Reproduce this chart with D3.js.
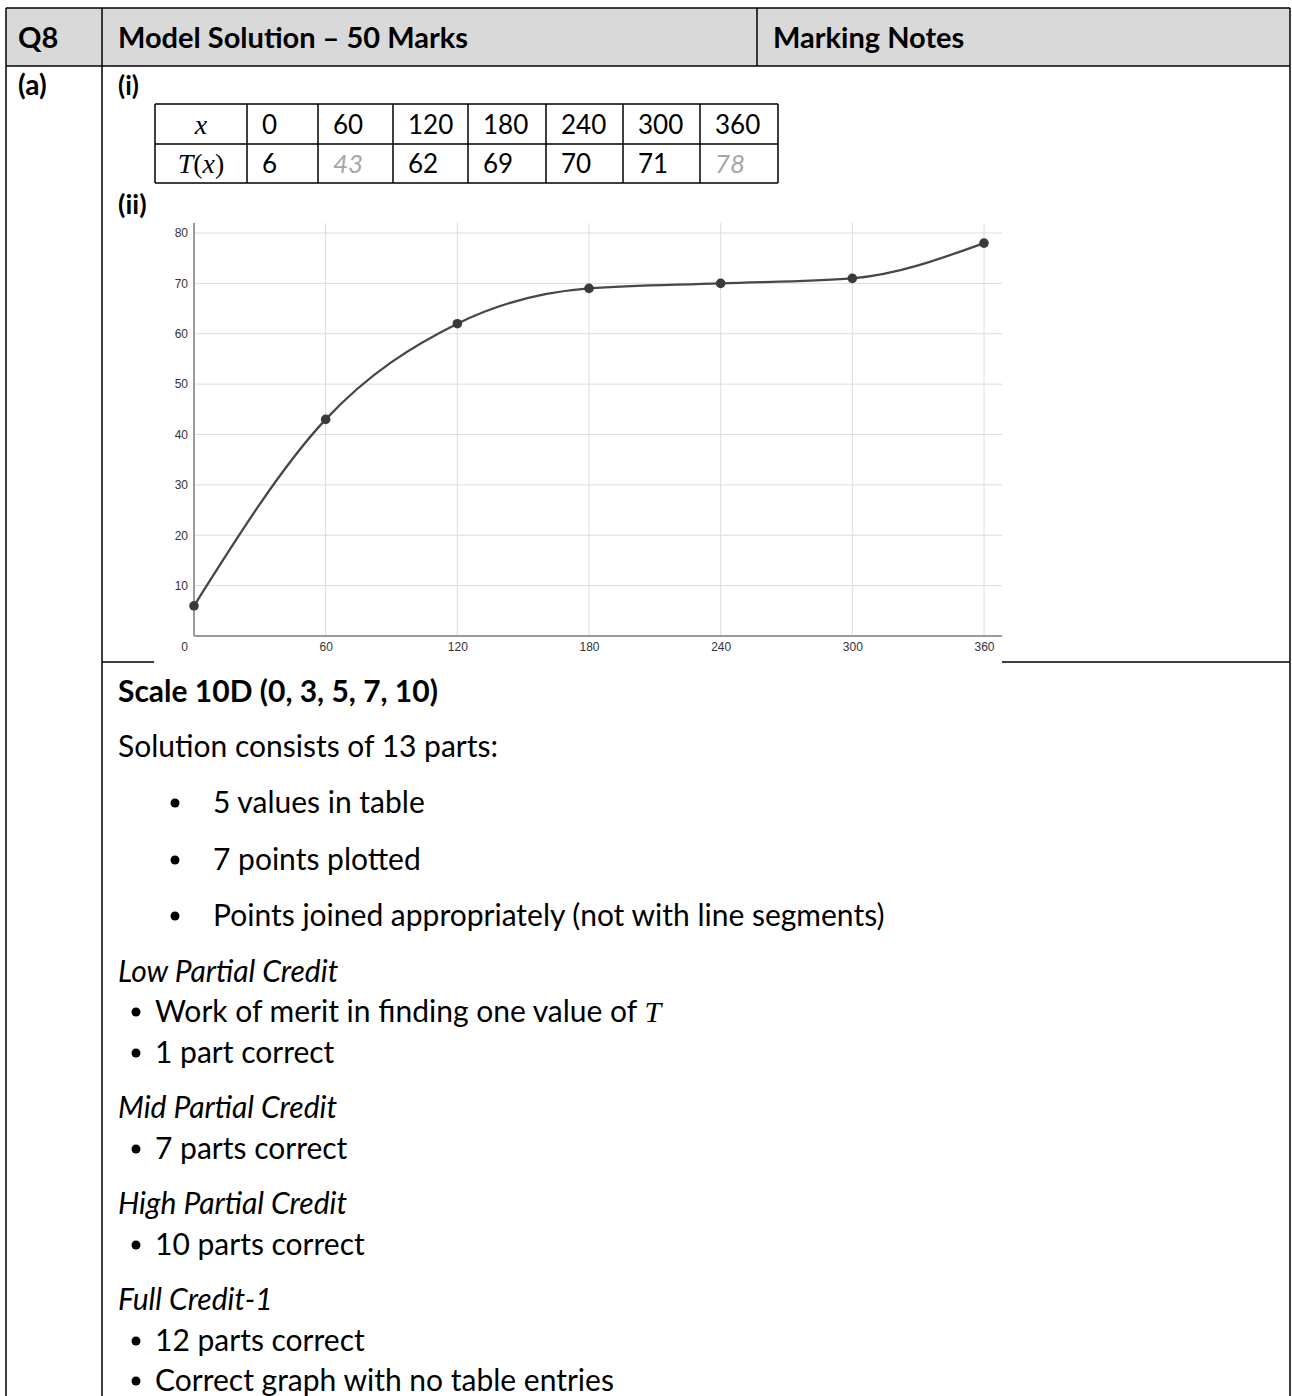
<!DOCTYPE html>
<html>
<head>
<meta charset="utf-8">
<script src="https://cdn.jsdelivr.net/npm/d3@7/dist/d3.min.js"></script>
<style>
  html, body { margin: 0; padding: 0; background: #fff; }
  svg { display: block; }
  .cal { font-family: Lato, "Open Sans", sans-serif; fill: #000; }
  .math { font-family: "Liberation Serif", "DejaVu Serif", serif; font-style: italic; }
  .tick text { font-family: "Liberation Sans", Arial, sans-serif; font-size: 12px; fill: #333; }
</style>
</head>
<body>
<svg id="page" width="1292" height="1396"></svg>
<script>
// ---------- DATA ----------
const xValues = [0, 60, 120, 180, 240, 300, 360];
const tValues = [6, 43, 62, 69, 70, 71, 78];
const answerFlags = [false, true, false, false, false, false, true]; // grey italic entries
const xTicks = [0, 60, 120, 180, 240, 300, 360];
const yTicks = [10, 20, 30, 40, 50, 60, 70, 80];

const headerTexts = ["Q8", "Model Solution \u2013 50 Marks", "Marking Notes"];
const bodyLines = [
  {text: "Scale 10D (0, 3, 5, 7, 10)", style: "bold", y: 702, x: 118},
  {text: "Solution consists of 13 parts:", style: "normal", y: 757, x: 118},
  {text: "5 values in table", style: "normal", y: 813, x: 213, bullet: 175},
  {text: "7 points plotted", style: "normal", y: 870, x: 213, bullet: 175},
  {text: "Points joined appropriately (not with line segments)", style: "normal", y: 926, x: 213, bullet: 175},
  {text: "Low Partial Credit", style: "italic", y: 982, x: 118},
  {text: "Work of merit in finding one value of ", style: "normal", y: 1022, x: 155, bullet: 136, mathT: true},
  {text: "1 part correct", style: "normal", y: 1063, x: 155, bullet: 136},
  {text: "Mid Partial Credit", style: "italic", y: 1118, x: 118},
  {text: "7 parts correct", style: "normal", y: 1159, x: 155, bullet: 136},
  {text: "High Partial Credit", style: "italic", y: 1214, x: 118},
  {text: "10 parts correct", style: "normal", y: 1255, x: 155, bullet: 136},
  {text: "Full Credit-1", style: "italic", y: 1310, x: 118},
  {text: "12 parts correct", style: "normal", y: 1351, x: 155, bullet: 136},
  {text: "Correct graph with no table entries", style: "normal", y: 1391, x: 155, bullet: 136}
];

// ---------- LAYOUT ----------
const svg = d3.select("#page");
const L = 6, C1 = 102, C2 = 757, R = 1290, TOP = 8, HB = 66, ROW2B = 662, BOT = 1396;

svg.append("rect").attr("x", L).attr("y", TOP).attr("width", R - L).attr("height", HB - TOP).attr("fill", "#d9d9d9");

const lineAttrs = sel => sel.attr("stroke", "#000").attr("stroke-width", 1.5);
const hline = (x1, x2, y) => svg.append("line").attr("x1", x1).attr("x2", x2).attr("y1", y).attr("y2", y).call(lineAttrs);
const vline = (x, y1, y2) => svg.append("line").attr("x1", x).attr("x2", x).attr("y1", y1).attr("y2", y2).call(lineAttrs);

hline(L, R, TOP);
hline(L, R, HB);
vline(L, TOP, BOT);
vline(C1, TOP, BOT);
vline(C2, TOP, HB);
vline(R, TOP, BOT);
hline(C1, 154, ROW2B);
hline(1002, R, ROW2B);

// header text
const hx = [18, 118, 773];
headerTexts.forEach((t, i) => {
  svg.append("text").attr("class", "cal").attr("x", hx[i]).attr("y", 48)
    .attr("font-size", 29).attr("font-weight", 700).text(t);
});

// (a), (i), (ii)
svg.append("text").attr("class", "cal").attr("x", 18).attr("y", 95).attr("font-size", 28).attr("font-weight", 700).text("(a)");
svg.append("text").attr("class", "cal").attr("x", 118).attr("y", 95).attr("font-size", 26).attr("font-weight", 700).text("(i)");
svg.append("text").attr("class", "cal").attr("x", 118).attr("y", 214).attr("font-size", 27).attr("font-weight", 700).text("(ii)");

// ---------- VALUE TABLE ----------
const colEdges = [155, 247, 318, 393, 468, 546, 623, 700, 778];
const rowEdges = [104, 144, 183];
const tbl = svg.append("g");
rowEdges.forEach(y => tbl.append("line").attr("x1", colEdges[0]).attr("x2", colEdges[colEdges.length - 1])
  .attr("y1", y).attr("y2", y).call(lineAttrs));
colEdges.forEach(x => tbl.append("line").attr("x1", x).attr("x2", x)
  .attr("y1", rowEdges[0]).attr("y2", rowEdges[2]).call(lineAttrs));

tbl.append("text").attr("class", "math").attr("x", (colEdges[0] + colEdges[1]) / 2).attr("y", 134)
  .attr("text-anchor", "middle").attr("font-size", 28).text("x");
const tx = tbl.append("text").attr("x", (colEdges[0] + colEdges[1]) / 2).attr("y", 173)
  .attr("text-anchor", "middle").attr("font-size", 28).attr("font-family", "'Liberation Serif', serif");
tx.append("tspan").attr("font-style", "italic").text("T");
tx.append("tspan").text("(");
tx.append("tspan").attr("font-style", "italic").text("x");
tx.append("tspan").text(")");

xValues.forEach((v, i) => {
  tbl.append("text").attr("class", "cal").attr("x", colEdges[i + 1] + 15).attr("y", 134)
    .attr("font-size", 26).text(v);
  tbl.append("text").attr("class", "cal").attr("x", colEdges[i + 1] + 15).attr("y", 173)
    .attr("font-size", 26)
    .attr("font-style", answerFlags[i] ? "italic" : "normal")
    .style("fill", answerFlags[i] ? "#a6a6a6" : "#000")
    .text(tValues[i]);
});

// ---------- CHART ----------
const chart = svg.append("g");
const x = d3.scaleLinear().domain([0, 360]).range([194, 984]);
const y = d3.scaleLinear().domain([0, 80]).range([636, 233]);
const gridRight = 1002, gridTop = 223;

chart.append("g").selectAll("line").data(yTicks).join("line")
  .attr("x1", x(0)).attr("x2", gridRight).attr("y1", d => y(d)).attr("y2", d => y(d))
  .attr("stroke", "#dcdcdc").attr("stroke-width", 1);
chart.append("g").selectAll("line").data(xTicks.filter(d => d > 0)).join("line")
  .attr("x1", d => x(d)).attr("x2", d => x(d)).attr("y1", gridTop).attr("y2", y(0))
  .attr("stroke", "#dcdcdc").attr("stroke-width", 1);

const yAxis = chart.append("g").attr("transform", `translate(${x(0)},0)`)
  .call(d3.axisLeft(y).tickValues(yTicks).tickSize(0).tickPadding(6));
yAxis.select(".domain").remove();

const xAxis = chart.append("g").attr("transform", `translate(0,${y(0)})`)
  .call(d3.axisBottom(x).tickValues(xTicks).tickSize(0).tickPadding(6));
xAxis.select(".domain").remove();
xAxis.selectAll(".tick text").attr("dx", d => d === 0 ? -10 : 0);

chart.append("line").attr("x1", x(0)).attr("x2", x(0)).attr("y1", gridTop).attr("y2", y(0))
  .attr("stroke", "#9a9a9a").attr("stroke-width", 2);
chart.append("line").attr("x1", x(0)).attr("x2", gridRight).attr("y1", y(0)).attr("y2", y(0))
  .attr("stroke", "#9a9a9a").attr("stroke-width", 2);

const pts = xValues.map((v, i) => [v, tValues[i]]);
chart.append("path").datum(pts)
  .attr("d", d3.line().x(d => x(d[0])).y(d => y(d[1])).curve(d3.curveMonotoneX))
  .attr("fill", "none").attr("stroke", "#474747").attr("stroke-width", 2.3);
chart.append("g").selectAll("circle").data(pts).join("circle")
  .attr("cx", d => x(d[0])).attr("cy", d => y(d[1])).attr("r", 4.8)
  .attr("fill", "#3a3a3a");

// ---------- BODY TEXT ----------
bodyLines.forEach(l => {
  if (l.bullet) {
    svg.append("circle").attr("cx", l.bullet).attr("cy", l.y - 10).attr("r", 4.5).attr("fill", "#000");
  }
  const t = svg.append("text").attr("class", "cal").attr("x", l.x).attr("y", l.y).attr("font-size", 30)
    .attr("font-weight", l.style === "bold" ? 700 : 400)
    .attr("font-style", l.style === "italic" ? "italic" : "normal");
  t.append("tspan").text(l.text);
  if (l.mathT) {
    t.append("tspan").attr("font-family", "'Liberation Serif', serif").attr("font-style", "italic")
      .attr("font-size", 30).text("T");
  }
});
</script>
</body>
</html>
